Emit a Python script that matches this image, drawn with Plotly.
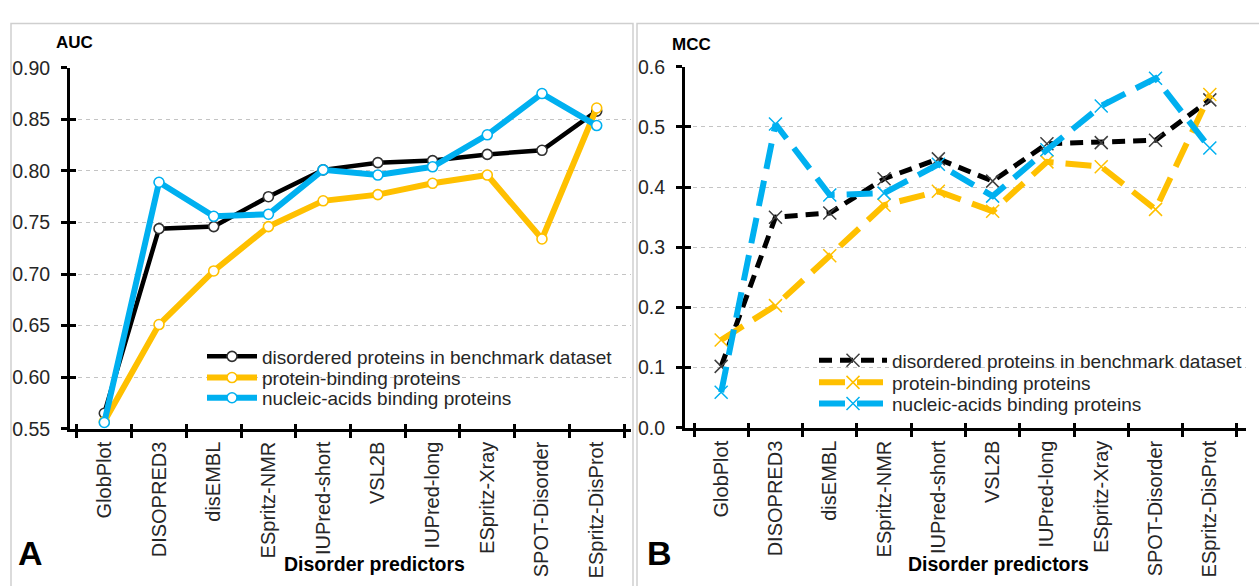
import plotly.graph_objects as go

W, H = 1259, 586

# Disorder predictors (x categories)
predictors = ["GlobPlot", "DISOPRED3", "disEMBL", "ESpritz-NMR", "IUPred-short",
              "VSL2B", "IUPred-long", "ESpritz-Xray", "SPOT-Disorder", "ESpritz-DisProt"]

series_names = ["disordered proteins in benchmark dataset",
                "protein-binding proteins",
                "nucleic-acids binding proteins"]

# Panel A: AUC
auc_benchmark = [0.565, 0.744, 0.746, 0.775, 0.801, 0.808, 0.810, 0.816, 0.820, 0.858]
auc_protein = [0.557, 0.651, 0.703, 0.746, 0.771, 0.777, 0.788, 0.796, 0.734, 0.861]
auc_nucleic = [0.556, 0.789, 0.756, 0.758, 0.801, 0.796, 0.804, 0.835, 0.875, 0.844]

# Panel B: MCC
mcc_benchmark = [0.102, 0.350, 0.357, 0.414, 0.447, 0.410, 0.472, 0.474, 0.478, 0.545]
mcc_protein = [0.146, 0.203, 0.286, 0.370, 0.393, 0.360, 0.442, 0.434, 0.363, 0.554]
mcc_nucleic = [0.059, 0.505, 0.387, 0.390, 0.438, 0.385, 0.462, 0.535, 0.581, 0.465]

line_colors = ["#000000", "#FFC000", "#00B0F0"]
x_colors = ["#404040", "#FFC000", "#00B0F0"]
FONT = "Liberation Sans, Arial, sans-serif"
TXT = "#262626"


def px(x):
    return x / W


def py(y):
    return 1 - y / H


fig = go.Figure()

# ---- Panel A: solid lines with open circles
auc_widths = [4.5, 6, 6]
for i, vals in enumerate([auc_benchmark, auc_protein, auc_nucleic]):
    fig.add_trace(go.Scatter(
        x=predictors, y=vals, name=series_names[i], mode="lines+markers",
        line=dict(color=line_colors[i], width=auc_widths[i]),
        marker=dict(symbol="circle", size=10, color="white",
                    line=dict(color=line_colors[i] if i else "#303030", width=1.6)),
        xaxis="x", yaxis="y", legend="legend" if i == 0 else f"legend{i + 1}",
    ))

# ---- Panel B: dashed lines with thin crosses
mcc_dash = ["13px,8px", "26px,12px", "26px,12px"]
mcc_widths = [5, 6, 6]
for i, vals in enumerate([mcc_benchmark, mcc_protein, mcc_nucleic]):
    fig.add_trace(go.Scatter(
        x=predictors, y=vals, name=series_names[i], mode="lines+markers",
        line=dict(color=line_colors[i], width=mcc_widths[i], dash=mcc_dash[i]),
        marker=dict(symbol="x-thin", size=13, color=x_colors[i],
                    line=dict(color=x_colors[i], width=1.5)),
        xaxis="x2", yaxis="y2", legend=f"legend{i + 4}",
    ))

# invisible carriers for the inner half of the crossing tick marks
for xa, ya, vals in [("x3", "y3", auc_benchmark), ("x4", "y4", mcc_benchmark)]:
    fig.add_trace(go.Scatter(x=predictors, y=vals, mode="lines", opacity=0,
                             showlegend=False, hoverinfo="skip",
                             xaxis=xa, yaxis=ya))

xdomA = [px(70), px(631)]
ydomA = [py(434), py(59)]
xdomB = [px(685), px(1246)]
ydomB = [py(433), py(58)]

xtickfont = dict(family=FONT, size=20, color=TXT)
ytickfont = dict(family=FONT, size=19.5, color=TXT)

xcommon = dict(type="category", categoryorder="array", categoryarray=predictors,
               showline=True, linecolor="black", linewidth=3,
               ticks="outside", ticklen=6, tickwidth=2.5, tickcolor="black",
               tickson="boundaries", tickangle=-90, showgrid=False,
               ticklabelstandoff=2, tickfont=xtickfont, zeroline=False)
ycommon = dict(showline=True, linecolor="black", linewidth=3,
               ticks="outside", ticklen=6, tickwidth=2.5, tickcolor="black",
               showgrid=True, gridcolor="#c4c4c4", gridwidth=1, griddash="4px,4px",
               ticklabelstandoff=7, tickfont=ytickfont, zeroline=False)
inner_x = dict(type="category", categoryorder="array", categoryarray=predictors,
               showline=False, ticks="inside", ticklen=5, tickwidth=2.5,
               tickcolor="black", tickson="boundaries", showticklabels=False,
               showgrid=False, zeroline=False)
inner_y = dict(showline=False, ticks="inside", ticklen=6, tickwidth=2.5,
               tickcolor="black", showticklabels=False, showgrid=False, zeroline=False)

fig.update_layout(
    width=W, height=H, margin=dict(l=0, r=0, t=0, b=0),
    paper_bgcolor="white", plot_bgcolor="white",
    font=dict(family=FONT, size=19, color=TXT),
    xaxis=dict(domain=xdomA, anchor="y", **xcommon),
    yaxis=dict(domain=ydomA, anchor="x", range=[0.55, 0.90], dtick=0.05,
               tickformat=".2f", **ycommon),
    xaxis2=dict(domain=xdomB, anchor="y2", **xcommon),
    yaxis2=dict(domain=ydomB, anchor="x2", range=[0, 0.6], dtick=0.1,
                tickformat=".1f", **ycommon),
    xaxis3=dict(overlaying="x", matches="x", anchor="y", **inner_x),
    yaxis3=dict(overlaying="y", matches="y", anchor="x", dtick=0.05, **inner_y),
    xaxis4=dict(overlaying="x2", matches="x2", anchor="y2", **inner_x),
    yaxis4=dict(overlaying="y2", matches="y2", anchor="x2", dtick=0.1, **inner_y),
    hovermode=False,
)

# one legend row per series so the rows sit where they belong
legend_font = dict(family=FONT, size=19, color=TXT)
rowsA = [359, 381, 402]
rowsB = [363, 386, 408]
for i in range(3):
    key = "legend" if i == 0 else f"legend{i + 1}"
    fig.update_layout({key: dict(x=px(202), y=py(rowsA[i]), xanchor="left",
                                 yanchor="middle", bgcolor="rgba(0,0,0,0)",
                                 borderwidth=0, itemwidth=50, font=legend_font,
                                 tracegroupgap=0)})
    fig.update_layout({f"legend{i + 4}": dict(x=px(814), y=py(rowsB[i]), xanchor="left",
                                              yanchor="middle", bgcolor="rgba(0,0,0,0)",
                                              borderwidth=0, itemwidth=68, font=legend_font,
                                              tracegroupgap=0)})

# white backing behind each legend block (hides the gridlines there)
fig.add_shape(type="rect", xref="paper", yref="paper", x0=px(204), x1=px(630),
              y0=py(414), y1=py(347), line=dict(width=0), fillcolor="white",
              layer="between")
fig.add_shape(type="rect", xref="paper", yref="paper", x0=px(807), x1=px(1258),
              y0=py(420), y1=py(350), line=dict(width=0), fillcolor="white",
              layer="between")

# panel frames
fig.add_shape(type="rect", xref="paper", yref="paper", x0=px(11), x1=px(633),
              y0=py(620), y1=py(13), line=dict(color="#cfcfcf", width=1.5), layer="below")
fig.add_shape(type="rect", xref="paper", yref="paper", x0=px(637), x1=px(1300),
              y0=py(620), y1=py(13), line=dict(color="#cfcfcf", width=1.5), layer="below")

ann = []
for txt, x, y, size in [("AUC", 74, 33, 17), ("MCC", 691, 35, 17),
                        ("A", 30, 563, 34), ("B", 660, 563, 34),
                        ("Disorder predictors", 374, 575, 19.5),
                        ("Disorder predictors", 998, 575, 19.5)]:
    ann.append(dict(text=f"<b>{txt}</b>", x=px(x), y=py(y), xref="paper", yref="paper",
                    xanchor="center", yanchor="middle", showarrow=False,
                    font=dict(family=FONT, size=size, color="black")))
fig.update_layout(annotations=ann)

fig.write_html("out.html")
